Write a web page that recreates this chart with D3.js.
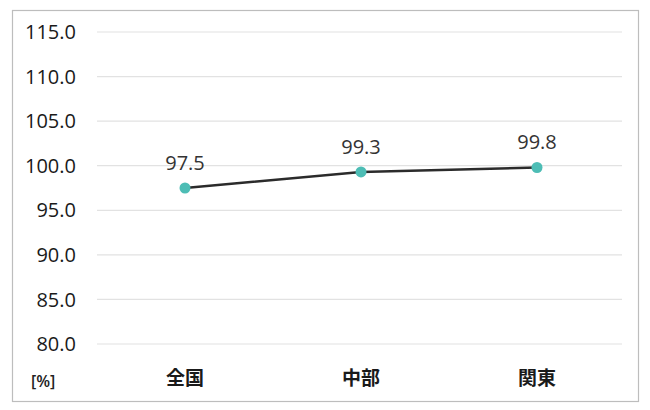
<!DOCTYPE html>
<html>
<head>
<meta charset="utf-8">
<script src="https://cdn.jsdelivr.net/npm/d3@7"></script>
<style>
  body { margin: 0; background: #fff; }
  svg { display: block; font-family: "Open Sans", "Noto Sans", sans-serif; }
</style>
</head>
<body>
<div id="d3"></div>
<script>
const categories = ["全国", "中部", "関東"];
const values = [97.5, 99.3, 99.8];
const yTicks = [80, 85, 90, 95, 100, 105, 110, 115];
const unitLabel = "[%]";

const width = 650;
const height = 410;
const margin = { top: 32, bottom: 66, left: 97, right: 28 };

const svg = d3.select("#d3").append("svg").attr("width", width).attr("height", height);

// outer frame
svg
  .append("rect")
  .attr("x", 12.5)
  .attr("y", 10.5)
  .attr("width", 626)
  .attr("height", 391)
  .attr("fill", "none")
  .attr("stroke", "#bdbdbd")
  .attr("stroke-width", 1.2);

const x = d3
  .scaleBand()
  .domain(categories)
  .range([margin.left, width - margin.right + 3]);

const y = d3
  .scaleLinear()
  .domain([80, 115])
  .range([height - margin.bottom, margin.top]);

// gridlines
svg
  .append("g")
  .selectAll("line")
  .data(yTicks)
  .join("line")
  .attr("x1", margin.left)
  .attr("x2", width - margin.right)
  .attr("y1", (d) => y(d))
  .attr("y2", (d) => y(d))
  .attr("stroke", "#e2e2e2")
  .attr("stroke-width", 1.2);

// y tick labels
svg
  .append("g")
  .selectAll("text")
  .data(yTicks)
  .join("text")
  .attr("x", 76)
  .attr("y", (d) => y(d))
  .attr("dy", "0.36em")
  .attr("text-anchor", "end")
  .style("font-size", "20px")
  .style("fill", "#1a1a1a")
  .text((d) => d.toFixed(1));

// x labels
svg
  .append("g")
  .selectAll("text")
  .data(categories)
  .join("text")
  .attr("x", (d) => x(d) + x.bandwidth() / 2)
  .attr("y", 385)
  .attr("text-anchor", "middle")
  .style("font-family", "'Noto Sans CJK JP', sans-serif")
  .style("font-weight", "bold")
  .style("font-size", "19px")
  .style("fill", "#1a1a1a")
  .text((d) => d);

svg
  .append("text")
  .attr("x", 31)
  .attr("y", 387)
  .style("font-size", "16px")
  .style("font-weight", "600")
  .style("fill", "#222")
  .text(unitLabel);

const points = categories.map((c, i) => ({ cat: c, value: values[i] }));

const line = d3
  .line()
  .x((d) => x(d.cat) + x.bandwidth() / 2)
  .y((d) => y(d.value));

svg
  .append("path")
  .datum(points)
  .attr("d", line)
  .attr("fill", "none")
  .attr("stroke", "#2b2b2b")
  .attr("stroke-width", 2.6);

svg
  .append("g")
  .selectAll("circle")
  .data(points)
  .join("circle")
  .attr("cx", (d) => x(d.cat) + x.bandwidth() / 2)
  .attr("cy", (d) => y(d.value))
  .attr("r", 5.5)
  .attr("fill", "#4dbdb5");

svg
  .append("g")
  .selectAll("text")
  .data(points)
  .join("text")
  .attr("x", (d) => x(d.cat) + x.bandwidth() / 2)
  .attr("y", (d) => y(d.value) - 18)
  .attr("text-anchor", "middle")
  .style("font-size", "20px")
  .style("fill", "#333")
  .text((d) => d.value.toFixed(1));
</script>
</body>
</html>
